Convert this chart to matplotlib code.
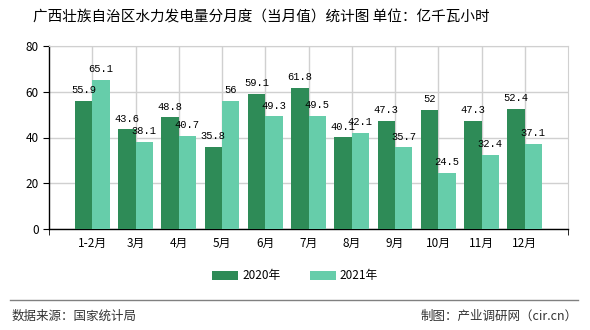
import matplotlib
matplotlib.use("Agg")
import matplotlib.pyplot as plt
import numpy as np

plt.rcParams['font.family'] = ['Noto Sans CJK SC', 'DejaVu Sans']

categories = ["1-2月", "3月", "4月", "5月", "6月", "7月", "8月", "9月", "10月", "11月", "12月"]
series_names = ["2020年", "2021年"]
values_2020 = [55.9, 43.6, 48.8, 35.8, 59.1, 61.8, 40.1, 47.3, 52, 47.3, 52.4]
values_2021 = [65.1, 38.1, 40.7, 56, 49.3, 49.5, 42.1, 35.7, 24.5, 32.4, 37.1]
colors = ["#2E8B57", "#66CDAA"]

fig = plt.figure(figsize=(5.9, 3.3), dpi=100)
ax = fig.add_axes([49/590, 1-229/330, 519/590, 183/330])

x = np.arange(1, len(categories) + 1)
w = 0.4
b1 = ax.bar(x - w/2, values_2020, w, color=colors[0], label=series_names[0], zorder=3)
b2 = ax.bar(x + w/2, values_2021, w, color=colors[1], label=series_names[1], zorder=3)

def fmt(v):
    return str(int(v)) if float(v).is_integer() else str(v)

for bars, vals in ((b1, values_2020), (b2, values_2021)):
    for r, v in zip(bars, vals):
        ax.text(r.get_x() + r.get_width()/2, v + 2.5, fmt(v), ha='center', va='bottom',
                fontsize=7.5, family=['Liberation Mono', 'DejaVu Sans Mono'], zorder=4)

ax.set_xlim(0, 12)
ax.set_ylim(0, 80)
ax.set_yticks([0, 20, 40, 60, 80])
ax.set_xticks(x)
ax.set_xticklabels(categories, fontsize=8.5)
ax.set_xticks(np.arange(0, 13), minor=True)
ax.tick_params(axis='x', which='major', length=0, pad=6)
ax.tick_params(axis='x', which='minor', length=4, color='black')
ax.tick_params(axis='y', labelsize=8.5, length=4, color='black')
ax.grid(True, which='major', axis='y', color='#d0d0d0', lw=1, zorder=0)
for xi in x:
    ax.axvline(xi, color='#d0d0d0', lw=1, zorder=0)
for s in ['top', 'right']:
    ax.spines[s].set_color('#d0d0d0')
for s in ['left', 'bottom']:
    ax.spines[s].set_color('black')
    ax.spines[s].set_linewidth(1)

fig.legend(handles=[b1, b2], labels=series_names, loc='center', bbox_to_anchor=(0.5, 1-276/330),
           ncol=2, frameon=False, fontsize=8.5, handlelength=2.2, handleheight=0.9,
           columnspacing=2.5, handletextpad=0.3)

fig.text(33/590, 1-17/330, "广西壮族自治区水力发电量分月度（当月值）统计图 单位：亿千瓦小时",
         fontsize=10.5, ha='left', va='center')

fig.add_artist(plt.Line2D([10/590, 578/590], [1-300/330, 1-300/330], color='#808080', lw=1))
fig.text(12/590, 1-316/330, "数据来源：国家统计局", fontsize=9, ha='left', va='center', color='#333333')
fig.text(578/590, 1-316/330, "制图：产业调研网（cir.cn）", fontsize=9, ha='right', va='center', color='#333333')

fig.savefig("out.png", dpi=100)
